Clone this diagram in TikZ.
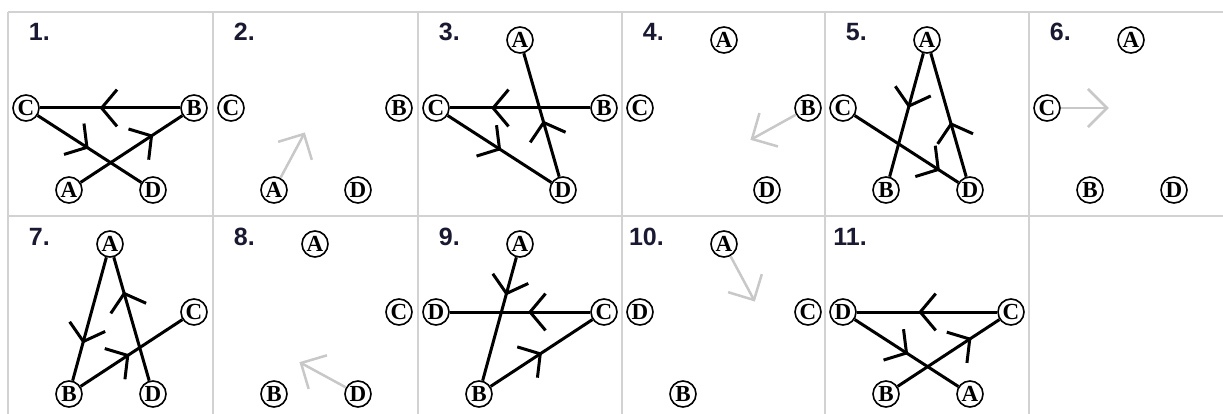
\documentclass[tikz,border=0pt]{standalone}
\usepackage{fontspec}
\usetikzlibrary{calc}
\newfontfamily\lblfont{Liberation Sans}
\newfontfamily\ltrfont{Liberation Serif}
\definecolor{gridc}{RGB}{210,210,210}
\definecolor{arrg}{RGB}{200,200,200}
\definecolor{lblc}{RGB}{25,25,50}
\tikzset{
 vtx/.style={circle,draw,line width=1.6pt,minimum size=26pt,inner sep=0pt,fill=white,font=\ltrfont\bfseries\fontsize{23}{23}\selectfont},
 edge/.style={line width=3pt,black},
 garrow/.style={line width=2.5pt,arrg},
 gridline/.style={line width=1.5pt,gridc},
 lbl/.style={anchor=base east,inner sep=0pt,text=lblc,font=\lblfont\bfseries\fontsize{25}{25}\selectfont}
}
\newcommand\chv[3]{\coordinate (tp) at ($(#1)!#3!(#2)$); \draw[edge] ($(tp)!24pt!50:(#1)$) -- (tp) -- ($(tp)!24pt!-50:(#1)$);}
\newcommand\gar[2]{\draw[garrow] (#1) -- (#2); \draw[garrow] ($(#2)!27pt!45:(#1)$) -- (#2) -- ($(#2)!27pt!-45:(#1)$);}
\begin{document}
\begin{tikzpicture}[x=1pt,y=-1pt]
\fill[white] (0,0) rectangle (1223,414);
\useasboundingbox (0,0) rectangle (1223,414);
% grid
\draw[gridline] (8,12) -- (1223,12);
\draw[gridline] (8,216) -- (1223,216);
\foreach \gx in {8,213,418,622,825,1029} {\draw[gridline] (\gx,12) -- (\gx,414);}
% labels
\node[lbl] (l1) at (50,41) {1.};
\node[lbl] (l2) at (255,41) {2.};
\node[lbl] (l3) at (460,41) {3.};
\node[lbl] (l4) at (664,41) {4.};
\node[lbl] (l5) at (867,41) {5.};
\node[lbl] (l6) at (1071,41) {6.};
\node[lbl] (l7) at (50,245) {7.};
\node[lbl] (l8) at (255,245) {8.};
\node[lbl] (l9) at (460,245) {9.};
\node[lbl] (l10) at (664,245) {10.};
\node[lbl] (l11) at (867,245) {11.};
% panel 1
\begin{scope}[shift={(8,12)}]
\node[vtx] (c1) at (18,96) {C};
\node[vtx] (b1) at (186,96) {B};
\node[vtx] (a1) at (61,178) {A};
\node[vtx] (d1) at (145,178) {D};
\end{scope}
\draw[edge] (c1) -- (b1); \draw[edge] (c1) -- (d1); \draw[edge] (a1) -- (b1);
\chv{b1}{c1}{0.55} \chv{c1}{d1}{0.48} \chv{a1}{b1}{0.66}
% panel 2
\begin{scope}[shift={(213,12)}]
\node[vtx] (c2) at (18,96) {C};
\node[vtx] (b2) at (186,96) {B};
\node[vtx] (a2) at (61,178) {A};
\node[vtx] (d2) at (145,178) {D};
\coordinate (g2) at (91,122);
\end{scope}
\gar{a2}{g2}
% panel 3
\begin{scope}[shift={(418,12)}]
\node[vtx] (a3) at (102,28) {A};
\node[vtx] (c3) at (18,96) {C};
\node[vtx] (b3) at (186,96) {B};
\node[vtx] (d3) at (145,178) {D};
\end{scope}
\draw[edge] (c3) -- (b3); \draw[edge] (c3) -- (d3); \draw[edge] (a3) -- (d3);
\chv{b3}{c3}{0.66} \chv{c3}{d3}{0.5} \chv{d3}{a3}{0.45}
% panel 4
\begin{scope}[shift={(622,12)}]
\node[vtx] (a4) at (102,28) {A};
\node[vtx] (c4) at (18,96) {C};
\node[vtx] (b4) at (186,96) {B};
\node[vtx] (d4) at (145,178) {D};
\coordinate (g4) at (130,127);
\end{scope}
\gar{b4}{g4}
% panel 5
\begin{scope}[shift={(825,12)}]
\node[vtx] (a5) at (102,28) {A};
\node[vtx] (c5) at (18,96) {C};
\node[vtx] (b5) at (61,178) {B};
\node[vtx] (d5) at (145,178) {D};
\end{scope}
\draw[edge] (a5) -- (b5); \draw[edge] (a5) -- (d5); \draw[edge] (c5) -- (d5);
\chv{a5}{b5}{0.44} \chv{d5}{a5}{0.44} \chv{c5}{d5}{0.75}
% panel 6
\begin{scope}[shift={(1029,12)}]
\node[vtx] (a6) at (102,28) {A};
\node[vtx] (c6) at (18,96) {C};
\node[vtx] (b6) at (61,178) {B};
\node[vtx] (d6) at (145,178) {D};
\coordinate (g6) at (78,96);
\end{scope}
\gar{c6}{g6}
% panel 7
\begin{scope}[shift={(8,216)}]
\node[vtx] (a7) at (102,28) {A};
\node[vtx] (c7) at (186,96) {C};
\node[vtx] (b7) at (61,178) {B};
\node[vtx] (d7) at (145,178) {D};
\end{scope}
\draw[edge] (a7) -- (b7); \draw[edge] (a7) -- (d7); \draw[edge] (b7) -- (c7);
\chv{a7}{b7}{0.65} \chv{d7}{a7}{0.67} \chv{b7}{c7}{0.47}
% panel 8
\begin{scope}[shift={(213,216)}]
\node[vtx] (a8) at (102,28) {A};
\node[vtx] (c8) at (186,96) {C};
\node[vtx] (b8) at (61,178) {B};
\node[vtx] (d8) at (145,178) {D};
\coordinate (g8) at (88,147);
\end{scope}
\gar{d8}{g8}
% panel 9
\begin{scope}[shift={(418,216)}]
\node[vtx] (a9) at (102,28) {A};
\node[vtx] (d9) at (18,96) {D};
\node[vtx] (c9) at (186,96) {C};
\node[vtx] (b9) at (61,178) {B};
\end{scope}
\draw[edge] (a9) -- (b9); \draw[edge] (d9) -- (c9); \draw[edge] (b9) -- (c9);
\chv{a9}{b9}{0.33} \chv{c9}{d9}{0.44} \chv{b9}{c9}{0.49}
% panel 10
\begin{scope}[shift={(622,216)}]
\node[vtx] (a10) at (102,28) {A};
\node[vtx] (d10) at (18,96) {D};
\node[vtx] (c10) at (186,96) {C};
\node[vtx] (b10) at (61,178) {B};
\coordinate (g10) at (132,84);
\end{scope}
\gar{a10}{g10}
% panel 11
\begin{scope}[shift={(825,216)}]
\node[vtx] (d11) at (18,96) {D};
\node[vtx] (c11) at (186,96) {C};
\node[vtx] (b11) at (61,178) {B};
\node[vtx] (a11) at (145,178) {A};
\end{scope}
\draw[edge] (d11) -- (c11); \draw[edge] (d11) -- (a11); \draw[edge] (b11) -- (c11);
\chv{c11}{d11}{0.54} \chv{d11}{a11}{0.5} \chv{b11}{c11}{0.67}
\end{tikzpicture}
\end{document}
